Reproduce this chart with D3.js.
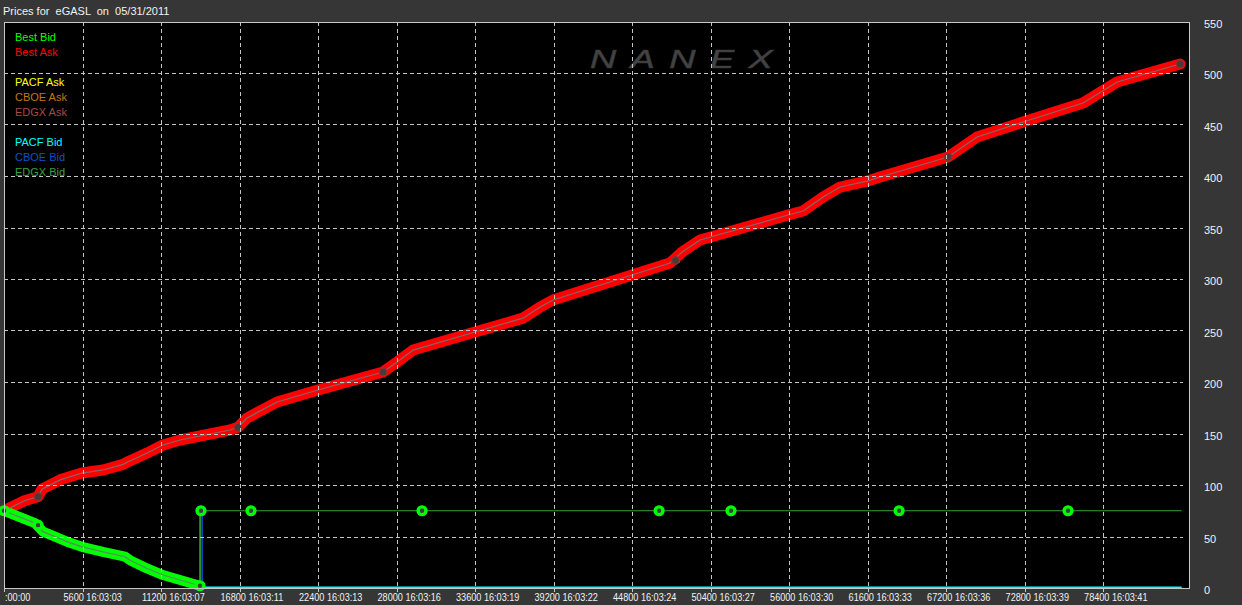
<!DOCTYPE html>
<html><head><meta charset="utf-8">
<script src="https://cdn.jsdelivr.net/npm/d3@7"></script>
<style>html,body{margin:0;padding:0;background:#363636;overflow:hidden}</style>
</head><body><svg id="c" width="1242" height="605"></svg>
<script>
const titleText = "Prices for  eGASL  on  05/31/2011";
const watermark = "NANEX";
const xTickValues = [0,5600,11200,16800,22400,28000,33600,39200,44800,50400,56000,61600,67200,72800,78400];
const xTickLabels = [":00:00","5600 16:03:03","11200 16:03:07","16800 16:03:11","22400 16:03:13","28000 16:03:16","33600 16:03:19","39200 16:03:22","44800 16:03:24","50400 16:03:27","56000 16:03:30","61600 16:03:33","67200 16:03:36","72800 16:03:39","78400 16:03:41"];
const yTickValues = [0,50,100,150,200,250,300,350,400,450,500,550];
const legendGroups = [["Best Bid","Best Ask"],["PACF Ask","CBOE Ask","EDGX Ask"],["PACF Bid","CBOE Bid","EDGX Bid"]];
const legendColors = {"Best Bid":"#00ff00","Best Ask":"#ff0000","PACF Ask":"#ffff00","CBOE Ask":"#c07810","EDGX Ask":"#a84848","PACF Bid":"#00ffff","CBOE Bid":"#1050c8","EDGX Bid":"#38a040"};

// Best Ask (dense quotes)
const askTimes  = [0,1500,2430,2710,4000,5560,7060,8490,8850,10200,11340,12560,16120,16700,17330,19480,22400,27040,28040,29180,33600,37020,38240,39160,44800,47510,48370,49650,55930,57000,58430,59640,61560,62490,67340,69410,72690,76970,79400,83900];
const askPrices = [75,85,88.6,96,105,111.6,114.6,120,122.6,131,138.8,143.7,153.4,156,165,180.6,192.2,209.7,219.4,231,248.5,262,272.8,279.6,303.9,315.5,326.2,337.9,362.1,366,379.6,389.3,395,399,418.4,437.9,452.4,470.9,491.3,508.7];
const askMarkerTimes  = [0,2430,16700,27040,47900,67340,83900];
const askMarkerPrices = [75,88.6,156,209.7,318,418.4,508.7];

// Best Bid (dense quotes, then single level)
const bidTimes  = [0,2210,2780,4490,5560,7060,8630,8990,10200,11340,12560,13980,13990];
const bidPrices = [75,63,54.7,45,40,35,30.4,27,19,12.6,7.8,2.2,75];
const bidBandCount = 12;
const bidMarkerTimes  = [0,2430,13980,14050,17620,29820,46730,51860,63850,75900];
const bidMarkerPrices = [75,61,2.2,75,75,75,75,75,75,75];

// Exchange quotes
const edgxBidTimes = [13990,13990,84000];
const edgxBidPrices = [2,75,75];
const cboeBidTimes = [14130,14130,84000];
const cboeBidPrices = [75,0,0];
const pacfBidTimes = [14180,84000];
const pacfBidPrices = [0.6,0.6];
const cboeAskTimes = [47750,48150,48150];
const cboeAskPrices = [316.5,316.5,319.5];

const svg = d3.select("#c");
const L=4, T=22, R=1190, B=588;
const x = d3.scaleLinear().domain([0,84600]).range([L,R]);
const y = d3.scaleLinear().domain([0,550]).range([B,21.5]);
const FONT = "'Liberation Sans', Arial, sans-serif";

svg.append("rect").attr("width",1242).attr("height",605).attr("fill","#363636");
svg.append("rect").attr("x",L).attr("y",T).attr("width",R-L).attr("height",B-T).attr("fill","#000");

// title
svg.append("text").attr("x",3).attr("y",15).attr("fill","#f2f2f2")
  .attr("font-family",FONT).attr("font-size",11).style("white-space","pre").text(titleText);

// watermark
svg.append("g").attr("transform","translate(590,68) scale(1.45,1)")
  .append("text").attr("font-family",FONT).attr("font-size",25).attr("font-style","italic")
  .attr("fill","#444444").attr("stroke","#3a3a3a").attr("stroke-width",0.6)
  .attr("textLength",126).attr("lengthAdjust","spacing").text(watermark);

const pts = (ts,ps)=>ts.map((t,i)=>[t,ps[i]]);
const line = d3.line().x(d=>x(d[0])).y(d=>y(d[1]));

const askPts = pts(askTimes,askPrices);
const bidPts = pts(bidTimes,bidPrices);
const bidBand = bidPts.slice(0,bidBandCount);

// thick bands of dense quotes
svg.append("path").attr("d",line(askPts)).attr("fill","none").attr("stroke","#ff0000")
  .attr("stroke-width",11).attr("stroke-linejoin","round").attr("stroke-linecap","round");
svg.append("path").attr("d",line(bidBand)).attr("fill","none").attr("stroke","#00ff00")
  .attr("stroke-width",10).attr("stroke-linejoin","round").attr("stroke-linecap","round");

// exchange lines
svg.append("path").attr("d",line(pts(edgxBidTimes,edgxBidPrices))).attr("fill","none").attr("stroke",legendColors["EDGX Bid"]).attr("stroke-width",1.2);
svg.append("path").attr("d",line(pts(cboeBidTimes,cboeBidPrices))).attr("fill","none").attr("stroke",legendColors["CBOE Bid"]).attr("stroke-width",1.6);
svg.append("path").attr("d",line(pts(pacfBidTimes,pacfBidPrices))).attr("fill","none").attr("stroke",legendColors["PACF Bid"]).attr("stroke-width",2);
svg.append("path").attr("d",line(pts(cboeAskTimes,cboeAskPrices))).attr("fill","none").attr("stroke",legendColors["CBOE Ask"]).attr("stroke-width",1.5);

// center lines
svg.append("path").attr("d",line(askPts)).attr("fill","none").attr("stroke","#806868").attr("stroke-width",1.2);
svg.append("path").attr("d",line(bidBand)).attr("fill","none").attr("stroke","#5e8a5e").attr("stroke-width",1.2);
svg.append("path").attr("d",line(bidPts.slice(bidBandCount-1))).attr("fill","none").attr("stroke","#30a030").attr("stroke-width",1.2);

// markers
svg.append("g").selectAll("circle").data(pts(askMarkerTimes,askMarkerPrices)).join("circle")
  .attr("cx",d=>x(d[0])).attr("cy",d=>y(d[1])).attr("r",3.8)
  .attr("fill","#4a3a3a").attr("stroke","#903030").attr("stroke-width",1.2);
svg.append("g").selectAll("circle").data(pts(bidMarkerTimes,bidMarkerPrices)).join("circle")
  .attr("cx",d=>x(d[0])).attr("cy",d=>y(d[1])).attr("r",3.9)
  .attr("fill","#3c3c3c").attr("stroke","#00ff00").attr("stroke-width",3.4);

// grid (drawn over data)
const grid = svg.append("g").attr("stroke","#c4c4c4").attr("stroke-width",1).attr("stroke-dasharray","4,3");
grid.selectAll("line.h").data(yTickValues.filter(v=>v>0 && v<550)).join("line").attr("class","h")
  .attr("x1",L).attr("x2",1183).attr("y1",d=>Math.round(y(d))+0.5).attr("y2",d=>Math.round(y(d))+0.5);
grid.selectAll("line.v").data(xTickValues.filter(v=>v>0)).join("line").attr("class","v")
  .attr("x1",d=>Math.round(x(d))+0.5).attr("x2",d=>Math.round(x(d))+0.5).attr("y1",T).attr("y2",B);

// border
svg.append("rect").attr("x",L+0.5).attr("y",T+0.5).attr("width",R-L-1).attr("height",B-T)
  .attr("fill","none").attr("stroke","#c8c8c8").attr("stroke-width",1);

// x ticks
svg.append("g").selectAll("line").data(xTickValues).join("line")
  .attr("x1",d=>Math.round(x(d))+0.5).attr("x2",d=>Math.round(x(d))+0.5).attr("y1",B).attr("y2",B+4)
  .attr("stroke","#c8c8c8");
svg.append("g").selectAll("text").data(xTickValues).join("text")
  .attr("transform",(d,i)=>`translate(${i===0?5:x(d)-19},601) scale(0.83,1)`)
  .attr("font-family",FONT).attr("font-size",11).attr("fill","#f2f2f2")
  .style("white-space","pre").text((d,i)=>xTickLabels[i]);

// y axis right
svg.append("g").selectAll("text").data(yTickValues).join("text")
  .attr("x",1204).attr("y",d=>y(d)+6).attr("font-family",FONT).attr("font-size",11)
  .attr("fill","#f2f2f2").text(d=>d);

// legend
let ly = 41;
const lg = svg.append("g");
legendGroups.forEach((grp,gi)=>{
  grp.forEach(name=>{
    lg.append("text").attr("x",15).attr("y",ly).attr("font-family",FONT).attr("font-size",11)
      .attr("fill",legendColors[name]).text(name);
    ly += 15;
  });
  ly += 15;
});
</script></body></html>
